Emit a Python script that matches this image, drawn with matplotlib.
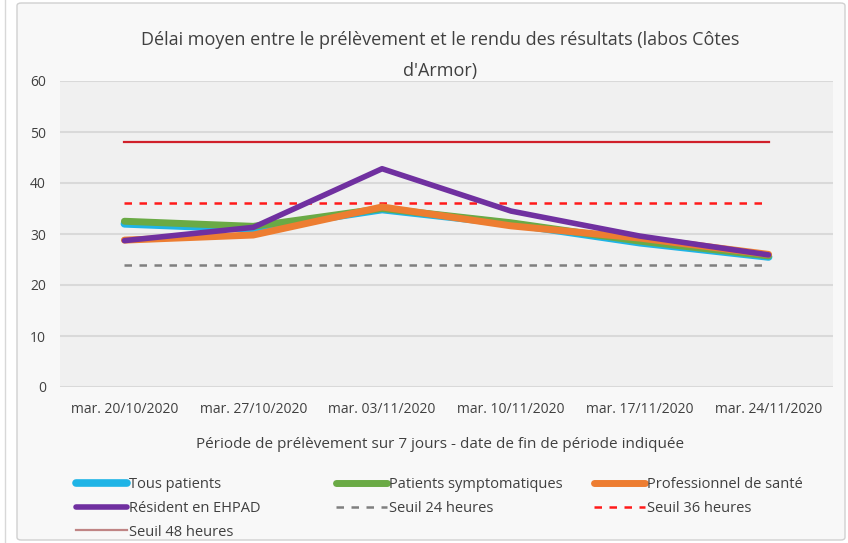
import matplotlib
matplotlib.use("Agg")
import matplotlib.pyplot as plt
from matplotlib.patches import FancyBboxPatch
from matplotlib.lines import Line2D

plt.rcParams['font.family'] = ['Open Sans', 'DejaVu Sans']

categories = ["mar. 20/10/2020", "mar. 27/10/2020", "mar. 03/11/2020",
              "mar. 10/11/2020", "mar. 17/11/2020", "mar. 24/11/2020"]
tous_patients = [32.0, 31.0, 34.8, 32.0, 28.3, 25.5]
patients_sympt = [32.5, 31.5, 35.0, 32.2, 28.6, 25.7]
professionnel = [28.8, 29.8, 35.3, 31.6, 29.2, 26.0]
resident_ehpad = [28.7, 31.3, 42.8, 34.5, 29.6, 25.9]
seuil_24 = [24] * 6
seuil_36 = [36] * 6
seuil_48 = [48] * 6
yticks = [0, 10, 20, 30, 40, 50, 60]

W, H = 848, 543
fig = plt.figure(figsize=(W / 100, H / 100), dpi=100, facecolor='white')

# chart border
border = FancyBboxPatch((17 / W, 3 / H), (W - 20) / W, (H - 6) / H,
                        boxstyle="round,pad=0,rounding_size=0.005",
                        transform=fig.transFigure, facecolor='#f8f8f8',
                        edgecolor='#d0d0d0', linewidth=1, zorder=-10)
fig.patches.append(border)
fig.add_artist(Line2D([5 / W, 5 / W], [0, 1], color='#d8d8d8', lw=1, zorder=-10))

left, right, top, bottom = 60, 833, 81, 387
ax = fig.add_axes([left / W, 1 - bottom / H, (right - left) / W, (bottom - top) / H])
ax.set_zorder(5)
ax.set_facecolor('#f0f0f0')
x = list(range(len(categories)))

ax.plot(x, seuil_48, color='#d0202a', lw=1.6, zorder=3, label='Seuil 48 heures')
ax.plot(x, seuil_36, color='#ff1a1a', lw=1.8, ls=(0, (3, 3)), zorder=3, label='Seuil 36 heures')
ax.plot(x, seuil_24, color='#7f7f7f', lw=1.8, ls=(0, (3, 3)), zorder=3, label='Seuil 24 heures')
ax.plot(x, tous_patients, color='#1fb4e6', lw=5.5, solid_capstyle='round', zorder=4, label='Tous patients')
ax.plot(x, patients_sympt, color='#6aaa45', lw=5, solid_capstyle='round', zorder=5, label='Patients symptomatiques')
ax.plot(x, professionnel, color='#ed7d31', lw=5, solid_capstyle='round', zorder=6, label='Professionnel de santé')
ax.plot(x, resident_ehpad, color='#7030a0', lw=4, solid_capstyle='round', zorder=7, label='Résident en EHPAD')

ax.set_xlim(-0.5, len(categories) - 0.5)
ax.set_ylim(0, 60)
ax.set_yticks(yticks)
ax.set_xticks(x)
ax.set_xticklabels(categories, fontsize=10, color='#404040')
ax.tick_params(axis='y', labelsize=10, labelcolor='#404040', length=0, pad=10)
ax.tick_params(axis='x', length=0, pad=11)
ax.grid(axis='y', color='#d9d9d9', lw=1.5)
ax.set_axisbelow(True)
for s in ax.spines.values():
    s.set_visible(False)

fig.text(440 / W, 1 - 40 / H, "Délai moyen entre le prélèvement et le rendu des résultats (labos Côtes",
         ha='center', va='center', fontsize=13, color='#404040')
fig.text(440 / W, 1 - 71 / H, "d'Armor)", ha='center', va='center', fontsize=13, color='#404040')
fig.text(440 / W, 1 - 444 / H, "Période de prélèvement sur 7 jours - date de fin de période indiquée",
         ha='center', va='center', fontsize=11, color='#404040')

h = {ln.get_label(): ln for ln in ax.get_lines()}
columns = [(['Tous patients', 'Résident en EHPAD', 'Seuil 48 heures'], 76),
           (['Patients symptomatiques', 'Seuil 24 heures'], 336),
           (['Professionnel de santé', 'Seuil 36 heures'], 594)]
for labels, x0 in columns:
    leg = fig.legend([h[k] for k in labels], labels, ncol=1, loc='upper left',
                     bbox_to_anchor=(x0 / W, 1 - 477 / H), frameon=False, fontsize=10.5,
                     handlelength=3.5, handletextpad=0.15,
                     labelspacing=0.6, borderaxespad=0, borderpad=0)
    for t in leg.get_texts():
        t.set_color('#404040')
    for lh, k in zip(leg.legend_handles, labels):
        if k == 'Seuil 48 heures':
            lh.set_color('#c08585')

fig.savefig('out.png', dpi=100, facecolor='white')
